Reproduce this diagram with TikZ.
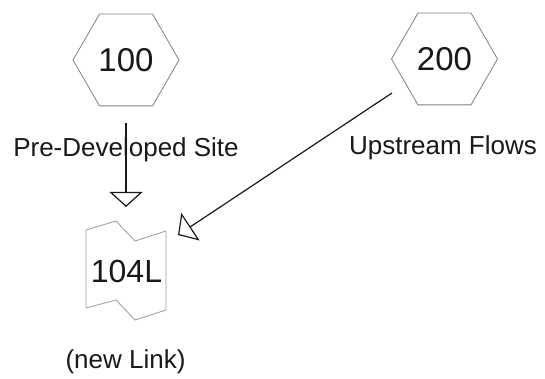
\documentclass[tikz,border=0pt]{standalone}
\usepackage{fontspec}
\setmainfont{Liberation Sans}
\usetikzlibrary{shapes.geometric,arrows.meta}
\begin{document}
\begin{tikzpicture}[x=1pt,y=-1pt,
  hexnode/.style={regular polygon, regular polygon sides=6, minimum size=106pt, inner sep=0pt,
    draw=black!50, line width=0.8pt, font=\fontsize{33}{40}\selectfont, text=black!90},
  lbl/.style={font=\fontsize{26}{31}\selectfont, text=black!90, anchor=base, inner sep=0pt},
  flow/.style={draw=black!90, line width=1.2pt,
    -{Triangle[open, length=15pt, width=33pt, line width=1.2pt]}},
  linkshape/.style={draw=black!40, line width=0.8pt, line join=round},
  linktext/.style={font=\fontsize{32}{38}\selectfont, text=black!90, inner sep=0pt}]
\useasboundingbox (0,0) rectangle (545,379);
\fill[white] (0,0) rectangle (545,379);
% hexagons
\node[hexnode] (h100) at (126,60) {100};
\node[hexnode] (h200) at (444.5,59) {200};
% labels
\node[lbl] (pre) at (126,157) {Pre-Developed Site};
\node[lbl] (up) at (443,155) {Upstream Flows};
\node[lbl] (nl) at (125.5,368) {(new Link)};
% link shape
\coordinate (l1) at (86,230);
\coordinate (l2) at (116,221);
\coordinate (l3) at (135,241);
\coordinate (l4) at (166,231);
\coordinate (l5) at (166,310);
\coordinate (l6) at (135,320);
\coordinate (l7) at (116,300);
\coordinate (l8) at (86,308);
\draw[linkshape] (l1) -- (l2) -- (l3) -- (l4) -- (l5) -- (l6) -- (l7) -- (l8) -- cycle;
\node[linktext] (link) at (126.5,271.5) {104L};
% connectors
\coordinate (a1s) at (126,123);
\coordinate (a1e) at (126,207);
\draw[flow] (a1s) -- (a1e);
\coordinate (a2s) at (392,93);
\coordinate (a2e) at (178,235);
\draw[flow] (a2s) -- (a2e);
\end{tikzpicture}
\end{document}
